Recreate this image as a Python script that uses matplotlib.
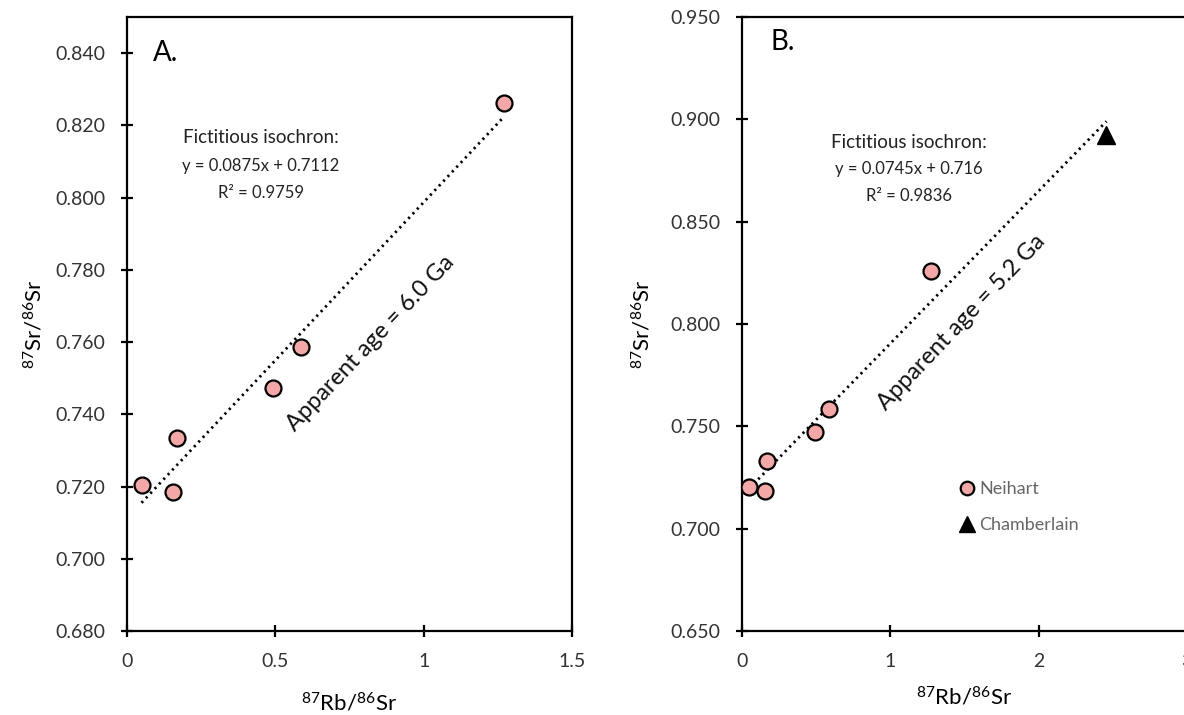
import matplotlib
matplotlib.use("Agg")
import matplotlib.pyplot as plt
import numpy as np

plt.rcParams['font.family'] = ['Lato', 'DejaVu Sans']
plt.rcParams['mathtext.fontset'] = 'custom'
plt.rcParams['mathtext.rm'] = 'Lato'
plt.rcParams['mathtext.default'] = 'regular'

# ---- data ----
neihart_rb = [0.049, 0.155, 0.167, 0.493, 0.587, 1.272]
neihart_sr = [0.7203, 0.7186, 0.7333, 0.7472, 0.7587, 0.8261]
chamberlain_rb = [2.457]
chamberlain_sr = [0.8924]

fit_a_slope, fit_a_int = 0.0875, 0.7112
fit_b_slope, fit_b_int = 0.0745, 0.716

a_xticks = [0, 0.5, 1, 1.5]
a_xticklabels = ['0', '0.5', '1', '1.5']
a_yticks = [0.68, 0.70, 0.72, 0.74, 0.76, 0.78, 0.80, 0.82, 0.84]
b_xticks = [0, 1, 2, 3]
b_xticklabels = ['0', '1', '2', '3']
b_yticks = [0.65, 0.70, 0.75, 0.80, 0.85, 0.90, 0.95]

W, H = 1184, 715
fig = plt.figure(figsize=(W / 100, H / 100), dpi=100)

def px_axes(x0, x1, ytop, ybot):
    return fig.add_axes([x0 / W, (H - ybot) / H, (x1 - x0) / W, (ybot - ytop) / H])

axA = px_axes(127, 572, 17, 631)
axB = px_axes(742, 1187, 17, 631)

face = '#F4A7A7'
tickfs = 14
labfs = 16

def style(ax):
    for s in ax.spines.values():
        s.set_linewidth(1.6)
        s.set_color('black')
    ax.tick_params(direction='inout', length=9, width=1.6, labelsize=tickfs,
                   pad=11, colors='black', labelcolor='#333333')

# ---- panel A ----
xa = np.array([min(neihart_rb), max(neihart_rb)])
axA.plot(xa, fit_a_slope * xa + fit_a_int, color='black', lw=2.0,
         linestyle=(0, (0.8, 1.5)), zorder=2)
axA.plot(neihart_rb, neihart_sr, 'o', ms=11.5, mfc=face, mec='black', mew=1.6, zorder=3)
axA.set_xlim(0, 1.5)
axA.set_ylim(0.68, 0.85)
axA.set_xticks(a_xticks)
axA.set_xticklabels(a_xticklabels)
axA.set_yticks(a_yticks)
axA.set_yticklabels([f'{v:.3f}' for v in a_yticks])
style(axA)
axA.set_xlabel(r'$^{87}$Rb/$^{86}$Sr', fontsize=labfs, labelpad=16)
axA.set_ylabel(r'$^{87}$Sr/$^{86}$Sr', fontsize=labfs, labelpad=7)
axA.text(0.058, 0.941, 'A.', transform=axA.transAxes, fontsize=20, ha='left', va='center')
axA.text(0.30, 0.803, 'Fictitious isochron:', transform=axA.transAxes, fontsize=13.5,
         ha='center', va='center', color='#222222')
axA.text(0.30, 0.757, 'y = 0.0875x + 0.7112', transform=axA.transAxes, fontsize=12,
         ha='center', va='center', color='#222222')
axA.text(0.30, 0.713, 'R² = 0.9759', transform=axA.transAxes, fontsize=12,
         ha='center', va='center', color='#222222')
axA.text(0.548, 0.468, 'Apparent age = 6.0 Ga', transform=axA.transAxes, fontsize=17,
         ha='center', va='center', rotation=46.5, rotation_mode='anchor', color='#111111')

# ---- panel B ----
allx = neihart_rb + chamberlain_rb
xb = np.array([min(allx), max(allx)])
axB.plot(xb, fit_b_slope * xb + fit_b_int, color='black', lw=2.0,
         linestyle=(0, (0.8, 1.5)), zorder=2)
axB.plot(neihart_rb, neihart_sr, 'o', ms=11.5, mfc=face, mec='black', mew=1.6,
         zorder=3, label='Neihart')
axB.plot(chamberlain_rb, chamberlain_sr, '^', ms=13, mfc='black', mec='black',
         zorder=3, label='Chamberlain')
axB.set_xlim(0, 3)
axB.set_ylim(0.65, 0.95)
axB.set_xticks(b_xticks)
axB.set_xticklabels(b_xticklabels)
axB.set_yticks(b_yticks)
axB.set_yticklabels([f'{v:.3f}' for v in b_yticks])
style(axB)
axB.set_xlabel(r'$^{87}$Rb/$^{86}$Sr', fontsize=labfs, labelpad=12)
axB.set_ylabel(r'$^{87}$Sr/$^{86}$Sr', fontsize=labfs, labelpad=12)
axB.text(0.065, 0.959, 'B.', transform=axB.transAxes, fontsize=20, ha='left', va='center')
axB.text(0.375, 0.796, 'Fictitious isochron:', transform=axB.transAxes, fontsize=13.5,
         ha='center', va='center', color='#222222')
axB.text(0.375, 0.752, 'y = 0.0745x + 0.716', transform=axB.transAxes, fontsize=12,
         ha='center', va='center', color='#222222')
axB.text(0.375, 0.708, 'R² = 0.9836', transform=axB.transAxes, fontsize=12,
         ha='center', va='center', color='#222222')
axB.text(0.494, 0.503, 'Apparent age = 5.2 Ga', transform=axB.transAxes, fontsize=17,
         ha='center', va='center', rotation=46.5, rotation_mode='anchor', color='#111111')
leg = axB.legend(loc='upper left', bbox_to_anchor=(0.49, 0.244), frameon=False,
                 fontsize=13, handlelength=0.8, handletextpad=0.25, labelspacing=1.12,
                 borderpad=0, borderaxespad=0, markerscale=0.85)
for t in leg.get_texts():
    t.set_color('#666666')

fig.savefig('out.png', dpi=100)
